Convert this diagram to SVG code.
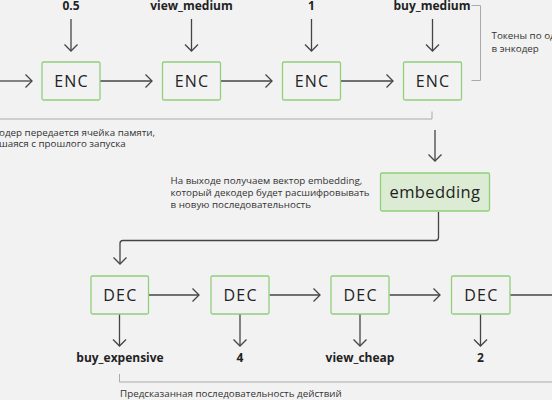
<svg xmlns="http://www.w3.org/2000/svg" width="552" height="400" viewBox="0 0 552 400">
<defs>
<marker id="ah" markerUnits="userSpaceOnUse" markerWidth="16" markerHeight="16" viewBox="-8 -8 16 16" refX="0" refY="0" orient="auto">
<path d="M-6.5,-6.5 L0,0 L-6.5,6.5" fill="none" stroke="#444" stroke-width="1.3"/>
</marker>
<style>
.box{fill:#f2f2f2;stroke:#90cf7c;stroke-width:1.3}
.emb{fill:#dcebd3;stroke:#90cf7c;stroke-width:1.3}
.bt{font-family:"Open Sans","Noto Sans",sans-serif;font-size:16px;fill:#222;text-anchor:middle;letter-spacing:1.2px}
.lbl{font-family:"Open Sans","Noto Sans",sans-serif;font-size:12px;font-weight:bold;fill:#222;text-anchor:middle}
.sm{font-family:"Open Sans","Noto Sans",sans-serif;font-size:9.8px;fill:#333}
.ln{fill:none;stroke:#444;stroke-width:1.3}
.ar{fill:none;stroke:#444;stroke-width:1.3;marker-end:url(#ah)}
.gr{fill:none;stroke:#aaa;stroke-width:1}
</style>
</defs>
<rect width="552" height="400" fill="#f2f2f2"/>
<g id="connectors">
<path class="ar" d="M0,81 H32"/>
<path class="ar" d="M100,81 H152"/>
<path class="ar" d="M220.5,81 H272"/>
<path class="ar" d="M340.5,81 H393"/>
<path class="ar" d="M71,19 V51"/>
<path class="ar" d="M191.5,19 V51"/>
<path class="ar" d="M311.5,19 V51"/>
<path class="ar" d="M432.5,19 V51"/>
<path class="ar" d="M435,130 V161"/>
<path class="ar" d="M438.5,212 V237.5 Q438.5,240.5 435.5,240.5 H123 Q120,240.5 120,243.5 V264"/>
<path class="ar" d="M149,295 H199"/>
<path class="ar" d="M269.5,295 H320"/>
<path class="ar" d="M389.5,295 H440"/>
<path class="ln" d="M510,295 H552"/>
<path class="ar" d="M119.5,314 V346"/>
<path class="ar" d="M240,314 V346"/>
<path class="ar" d="M360,314 V346"/>
<path class="ar" d="M480.5,314 V346"/>
</g>
<g id="brackets">
<path class="gr" d="M0,119 H432 V111.5"/>
<path class="gr" d="M471.5,5.5 H480.5 V80.5 H471.5"/>
<path class="gr" d="M119.5,374 V382 H552"/>
</g>
<g id="enc1"><rect class="box" x="42" y="62" width="58" height="38" rx="1.5"/><text class="bt" x="71.6" y="86.5">ENC</text></g>
<g id="enc2"><rect class="box" x="162.5" y="62" width="58" height="38" rx="1.5"/><text class="bt" x="192.1" y="86.5">ENC</text></g>
<g id="enc3"><rect class="box" x="282.5" y="62" width="58" height="38" rx="1.5"/><text class="bt" x="312.1" y="86.5">ENC</text></g>
<g id="enc4"><rect class="box" x="403.5" y="62" width="58" height="38" rx="1.5"/><text class="bt" x="433.1" y="86.5">ENC</text></g>
<g id="embedding"><rect class="emb" x="380.5" y="173" width="109" height="38" rx="1.5"/><text class="bt" x="435" y="197.5" style="font-size:16.5px;letter-spacing:0.4px">embedding</text></g>
<g id="dec1"><rect class="box" x="91" y="276" width="57.5" height="38" rx="1.5"/><text class="bt" x="120.4" y="300.5">DEC</text></g>
<g id="dec2"><rect class="box" x="211" y="276" width="58" height="38" rx="1.5"/><text class="bt" x="240.6" y="300.5">DEC</text></g>
<g id="dec3"><rect class="box" x="331" y="276" width="58" height="38" rx="1.5"/><text class="bt" x="360.6" y="300.5">DEC</text></g>
<g id="dec4"><rect class="box" x="451.5" y="276" width="58.5" height="38" rx="1.5"/><text class="bt" x="481.4" y="300.5">DEC</text></g>
<g id="labels">
<text class="lbl" x="71" y="10">0.5</text>
<text class="lbl" x="191.5" y="10">view_medium</text>
<text class="lbl" x="311.5" y="10">1</text>
<text class="lbl" x="432" y="10">buy_medium</text>
<text class="lbl" x="120" y="362">buy_expensive</text>
<text class="lbl" x="240" y="362">4</text>
<text class="lbl" x="360" y="362">view_cheap</text>
<text class="lbl" x="480.5" y="362">2</text>
</g>
<g id="notes">
<text class="sm" x="-1" y="135.5">одер передается ячейка памяти,</text>
<text class="sm" x="-1" y="147">шаяся с прошлого запуска</text>
<text class="sm" x="491.5" y="39">Токены по од</text>
<text class="sm" x="491.5" y="52">в энкодер</text>
<text class="sm" x="170.5" y="184">На выходе получаем вектор embedding,</text>
<text class="sm" x="170.5" y="196">который декодер будет расшифровывать</text>
<text class="sm" x="170.5" y="207.5">в новую последовательность</text>
<text class="sm" x="120" y="397">Предсказанная последовательность действий</text>
</g>
</svg>
